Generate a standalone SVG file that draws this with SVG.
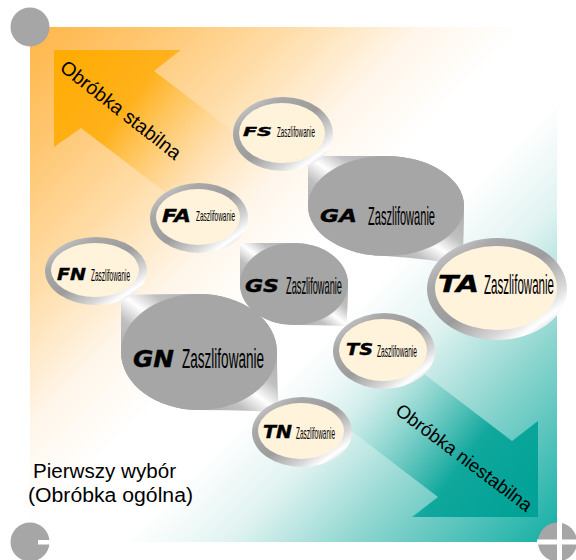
<svg xmlns="http://www.w3.org/2000/svg" width="576" height="560" viewBox="0 0 576 560">
<defs>
<linearGradient id="bg" gradientUnits="userSpaceOnUse" x1="30" y1="27" x2="557" y2="542">
<stop offset="0" stop-color="#FFB648"/>
<stop offset="0.12" stop-color="#FFC670"/>
<stop offset="0.25" stop-color="#FFDCA6"/>
<stop offset="0.38" stop-color="#FFF6EA"/>
<stop offset="0.48" stop-color="#FFFFFF"/>
<stop offset="0.58" stop-color="#FFFFFF"/>
<stop offset="0.68" stop-color="#E0F3F1"/>
<stop offset="0.8" stop-color="#8FD6D0"/>
<stop offset="1" stop-color="#12AEA4"/>
</linearGradient>
<linearGradient id="arrO" gradientUnits="userSpaceOnUse" x1="54" y1="50" x2="265" y2="211">
<stop offset="0" stop-color="#FFAC00"/>
<stop offset="0.35" stop-color="#FFAE10" stop-opacity="0.9"/>
<stop offset="0.7" stop-color="#FFD9A0" stop-opacity="0.4"/>
<stop offset="1" stop-color="#FFFFFF" stop-opacity="0"/>
</linearGradient>
<linearGradient id="arrT" gradientUnits="userSpaceOnUse" x1="538" y1="517" x2="327" y2="356">
<stop offset="0" stop-color="#00A196"/>
<stop offset="0.35" stop-color="#05A398" stop-opacity="0.9"/>
<stop offset="0.7" stop-color="#8FD6D0" stop-opacity="0.4"/>
<stop offset="1" stop-color="#FFFFFF" stop-opacity="0"/>
</linearGradient>
<linearGradient id="ringGrad" x1="0" y1="0" x2="1" y2="1">
<stop offset="0" stop-color="#E0E0E0"/>
<stop offset="0.25" stop-color="#A8A8A8"/>
<stop offset="0.5" stop-color="#9C9C9C"/>
<stop offset="0.72" stop-color="#D8D8D8"/>
<stop offset="0.82" stop-color="#FFFFFF"/>
<stop offset="1" stop-color="#8E8E8E"/>
</linearGradient>
<linearGradient id="leafGrad" x1="1" y1="0" x2="0" y2="1">
<stop offset="0" stop-color="#8A8A8A"/>
<stop offset="0.4" stop-color="#C0C0C0"/>
<stop offset="0.5" stop-color="#FFFFFF"/>
<stop offset="0.6" stop-color="#C0C0C0"/>
<stop offset="1" stop-color="#8A8A8A"/>
</linearGradient>
<style>
.heavy{font-family:"DejaVu Sans",sans-serif;font-weight:bold;font-style:italic;fill:#000;stroke:#000;stroke-width:0.4}
.cond{font-family:"Liberation Sans Narrow","Liberation Sans",sans-serif;fill:#000}
.lbl{font-family:"Liberation Sans",Arial,sans-serif;fill:#000}
.ring{fill:url(#ringGrad)}
.cream{fill:#FFF3DC}
.leaf{fill:url(#leafGrad)}
.gray{fill:#A6A6A6}
.corner{fill:#A6A6A6}
</style>
</defs>

<g id="background">
<rect x="30" y="27" width="527" height="515" fill="url(#bg)"/>
</g>

<g id="flow-arrows">
<polygon points="54,50 181,50 154,71 329,204.5 256,261.5 81,128 54,147" fill="url(#arrO)"/>
<polygon points="538,517 538,421 512,441 337,307.5 263,363.5 438,497 412,517" fill="url(#arrT)"/>
<text class="lbl" font-size="19.5" transform="translate(58.7,69.8) rotate(38)">Obróbka stabilna</text>
<text class="lbl" font-size="18.6" transform="translate(394.2,413) rotate(37)">Obróbka niestabilna</text>
</g>

<g id="corners">
<circle class="corner" cx="30" cy="27" r="19.5"/>
<circle class="corner" cx="30" cy="542" r="19.5"/>
<rect x="38" y="540" width="13" height="4.5" fill="#FFFFFF"/>
<circle class="corner" cx="557.5" cy="542" r="19.5"/>
<rect x="537" y="539.5" width="40" height="5" fill="#FFFFFF"/>
<rect x="557" y="521" width="5" height="40" fill="#FFFFFF"/>
</g>

<g id="node-GA">
<path class="leaf" d="M308,156 Q340,156 386,156 A78,50 0 0 1 464,206 Q464,240 462,266 Q425,258 386,256 A78,50 0 0 1 308,206 Q308,175 308,156 Z"/>
<ellipse class="gray" cx="386" cy="206" rx="78" ry="50"/>
<text class="heavy" x="320" y="222" font-size="18.5" textLength="37" lengthAdjust="spacingAndGlyphs">GA</text>
<text class="cond" x="368" y="225" font-size="25" textLength="67" lengthAdjust="spacingAndGlyphs">Zaszlifowanie</text>
</g>

<g id="node-GS">
<path class="leaf" d="M240,243 Q265,243 294,243 A54,41 0 0 1 348,284 Q348,308 346,326 Q320,325 294,325 A54,41 0 0 1 240,284 Q240,262 240,243 Z"/>
<ellipse class="gray" cx="294" cy="284" rx="54" ry="41"/>
<text class="heavy" x="245" y="292" font-size="18" textLength="34" lengthAdjust="spacingAndGlyphs">GS</text>
<text class="cond" x="286" y="294" font-size="24" textLength="56" lengthAdjust="spacingAndGlyphs">Zaszlifowanie</text>
</g>

<g id="node-GN">
<path class="leaf" d="M121,295 Q160,294 199,294 A78,58 0 0 1 277,352 Q277,385 279,412 Q240,410 199,410 A78,58 0 0 1 121,352 Q121,322 121,295 Z"/>
<ellipse class="gray" cx="199" cy="352" rx="78" ry="58"/>
<text class="heavy" x="133" y="367" font-size="23" textLength="41" lengthAdjust="spacingAndGlyphs">GN</text>
<text class="cond" x="182" y="368" font-size="27" textLength="82" lengthAdjust="spacingAndGlyphs">Zaszlifowanie</text>
</g>

<g id="node-TA">
<ellipse class="ring" cx="497" cy="289" rx="70" ry="51"/>
<ellipse class="cream" cx="496" cy="288" rx="61" ry="42"/>
<text class="heavy" x="438" y="292" font-size="23" textLength="41" lengthAdjust="spacingAndGlyphs">TA</text>
<text class="cond" x="484" y="294" font-size="27" textLength="70" lengthAdjust="spacingAndGlyphs">Zaszlifowanie</text>
</g>

<g id="node-FS">
<ellipse class="ring" cx="283" cy="134" rx="50" ry="37"/>
<ellipse class="cream" cx="282" cy="133" rx="43" ry="30"/>
<text class="heavy" x="243" y="136" font-size="13" textLength="29" lengthAdjust="spacingAndGlyphs">FS</text>
<text class="cond" x="277" y="137" font-size="14" textLength="38" lengthAdjust="spacingAndGlyphs">Zaszlifowanie</text>
</g>

<g id="node-FA">
<ellipse class="ring" cx="199" cy="218" rx="49" ry="35"/>
<ellipse class="cream" cx="198" cy="217" rx="42" ry="28"/>
<text class="heavy" x="162" y="222" font-size="17" textLength="29" lengthAdjust="spacingAndGlyphs">FA</text>
<text class="cond" x="196" y="221" font-size="15" textLength="39" lengthAdjust="spacingAndGlyphs">Zaszlifowanie</text>
</g>

<g id="node-FN">
<ellipse class="ring" cx="96" cy="271" rx="51" ry="34"/>
<ellipse class="cream" cx="95" cy="270" rx="44" ry="27"/>
<text class="heavy" x="57" y="280" font-size="16.5" textLength="29" lengthAdjust="spacingAndGlyphs">FN</text>
<text class="cond" x="91" y="281" font-size="16" textLength="39" lengthAdjust="spacingAndGlyphs">Zaszlifowanie</text>
</g>

<g id="node-TS">
<ellipse class="ring" cx="384" cy="351" rx="51" ry="38"/>
<ellipse class="cream" cx="383" cy="350" rx="44" ry="31"/>
<text class="heavy" x="346" y="355" font-size="16.5" textLength="27" lengthAdjust="spacingAndGlyphs">TS</text>
<text class="cond" x="377" y="357" font-size="16" textLength="40" lengthAdjust="spacingAndGlyphs">Zaszlifowanie</text>
</g>

<g id="node-TN">
<ellipse class="ring" cx="302" cy="432" rx="50" ry="35"/>
<ellipse class="cream" cx="301" cy="431" rx="43" ry="28"/>
<text class="heavy" x="263" y="438" font-size="17.5" textLength="29" lengthAdjust="spacingAndGlyphs">TN</text>
<text class="cond" x="296" y="439" font-size="17" textLength="39" lengthAdjust="spacingAndGlyphs">Zaszlifowanie</text>
</g>

<g id="caption">
<text class="lbl" x="33" y="478" font-size="20" textLength="143" lengthAdjust="spacingAndGlyphs">Pierwszy wybór</text>
<text class="lbl" x="28" y="502" font-size="20" textLength="165" lengthAdjust="spacingAndGlyphs">(Obróbka ogólna)</text>
</g>
</svg>
